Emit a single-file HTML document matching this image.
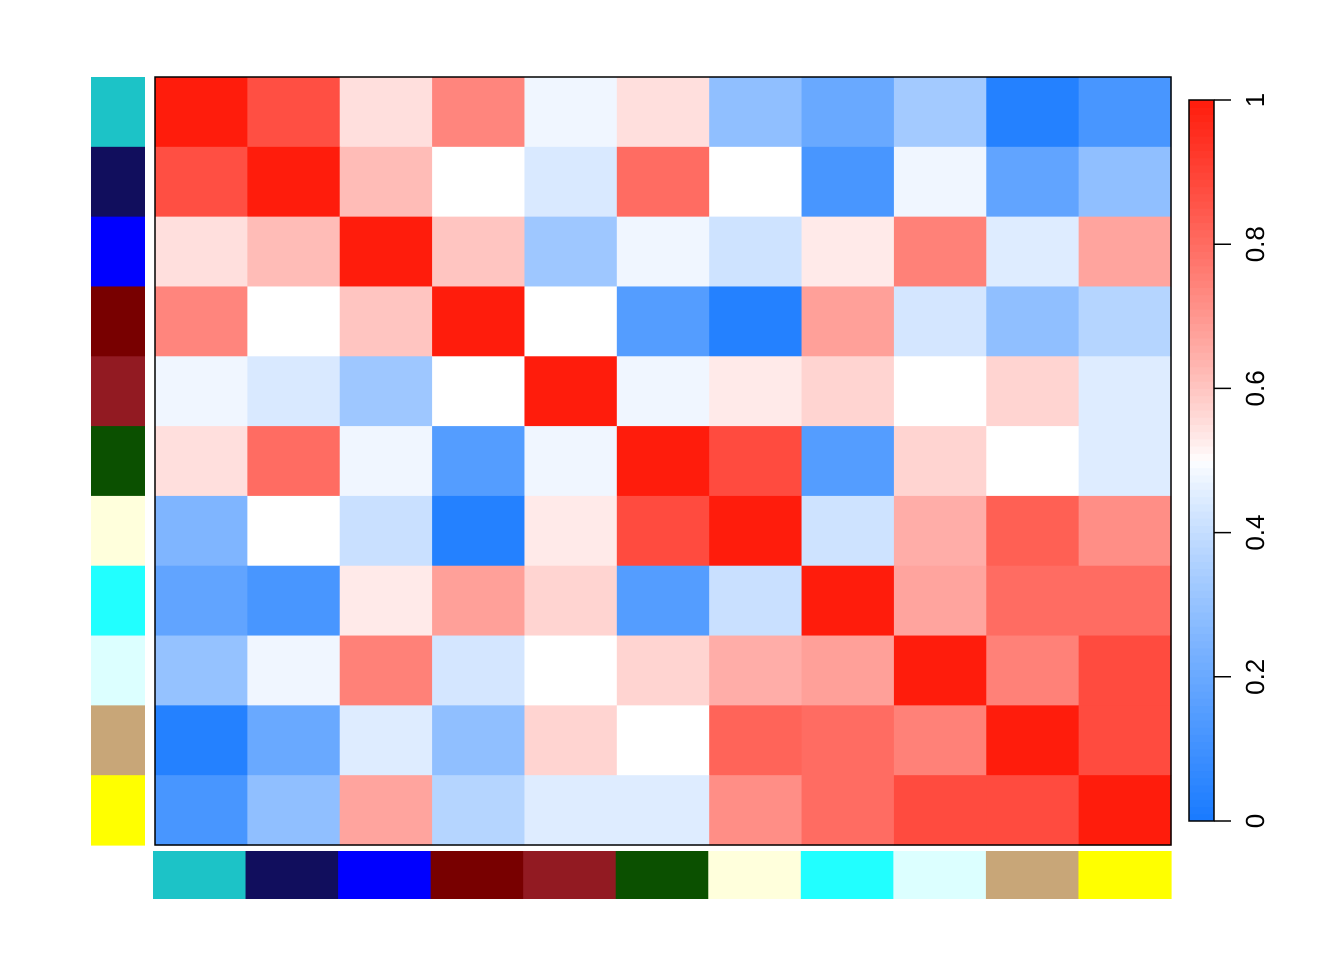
<!DOCTYPE html>
<html><head><meta charset="utf-8"><style>
body{margin:0;background:#fff;width:1344px;height:960px;overflow:hidden}
svg{font-family:"Liberation Sans",sans-serif}
</style></head><body>
<svg id="chart" width="1344" height="960"></svg>
<script>
const categories=["A","B","C","D","E","F","G","H","I","J","K"];
const groupColors=["#1CC3C7","#110E5D","#0000FF","#780000","#921A22","#0B5000","#FFFFDC","#21FFFF","#DCFFFF","#C8A678","#FFFF00"];
const row0=[1,.87,.55,.74,.48,.55,.29,.2,.33,.03,.12];
const row1=[.87,1,.62,.5,.44,.80,.5,.12,.48,.18,.29];
const row2=[.55,.62,1,.6,.32,.48,.42,.53,.75,.45,.67];
const row3=[.74,.5,.6,1,.5,.15,.03,.68,.43,.29,.37];
const row4=[.48,.44,.32,.5,1,.48,.53,.57,.5,.57,.45];
const row5=[.55,.80,.48,.15,.48,1,.88,.15,.57,.5,.45];
const row6=[.25,.5,.41,.03,.53,.88,1,.42,.65,.83,.72];
const row7=[.18,.12,.53,.68,.57,.15,.41,1,.67,.8,.8];
const row8=[.3,.48,.75,.43,.5,.57,.65,.68,1,.75,.88];
const row9=[.03,.2,.45,.29,.57,.5,.82,.8,.75,1,.88];
const row10=[.12,.29,.67,.37,.45,.45,.72,.8,.88,.88,1];
const values=[row0,row1,row2,row3,row4,row5,row6,row7,row8,row9,row10];
const tickLabels=["0","0.2","0.4","0.6","0.8","1"];
const tickValues=[0,0.2,0.4,0.6,0.8,1];

const NS="http://www.w3.org/2000/svg";
const svg=document.getElementById("chart");
function mk(tag,attrs,parent){const e=document.createElementNS(NS,tag);for(const k in attrs)e.setAttribute(k,attrs[k]);(parent||svg).appendChild(e);return e;}
const X0=155,X1=1171,Y0=77,Y1=845,n=categories.length;
const cw=(X1-X0)/n,ch=(Y1-Y0)/n;
const xs=i=>X0+i*cw, ys=i=>Y0+i*ch;
function color(v){
  const b=[24,122,255],w=[255,255,255],r=[255,28,12];
  const c=v<0.5?b:r;
  const t=Math.pow(Math.abs(v-0.5)/0.5,0.85);
  const m=w.map((x,k)=>Math.round(x+(c[k]-x)*t));
  return `rgb(${m[0]},${m[1]},${m[2]})`;
}
values.forEach((row,i)=>row.forEach((v,j)=>{
  const el=mk("rect",{x:xs(j),y:ys(i),width:cw+0.6,height:ch+0.6,fill:color(v)});
  
  
}));
const fr=mk("rect",{x:X0,y:Y0,width:X1-X0,height:Y1-Y0,fill:"none",stroke:"#000","stroke-width":1.5});


groupColors.forEach((c,i)=>{
  const l=mk("rect",{x:91,y:ys(i),width:54,height:ch+0.6,fill:c});
  
  
  const b=mk("rect",{x:153+i*(1171-153)/n,y:851,width:(1171-153)/n+0.6,height:48,fill:c});
  
  
});
const LY0=821,LY1=100,steps=100;
const ly=v=>LY0+(LY1-LY0)*v;
for(let k=0;k<steps;k++){
  const v=(k+0.5)/steps;
  const s=mk("rect",{x:1189,y:ly((k+1)/steps),width:25,height:(LY0-LY1)/steps+0.5,fill:color(v)});
  
  
}
const lb=mk("rect",{x:1189,y:LY1,width:25,height:LY0-LY1,fill:"none",stroke:"#000","stroke-width":1.5});


tickValues.forEach((v,k)=>{
  const y=ly(v);
  const t=mk("line",{x1:1214,x2:1231,y1:y,y2:y,stroke:"#000","stroke-width":1.5});
  
  
  const tx=mk("text",{x:1264,y:y,transform:`rotate(-90 1264 ${y})`,"text-anchor":"middle","font-size":26});
  tx.textContent=tickLabels[k];
  
  
});
</script>
</body></html>
